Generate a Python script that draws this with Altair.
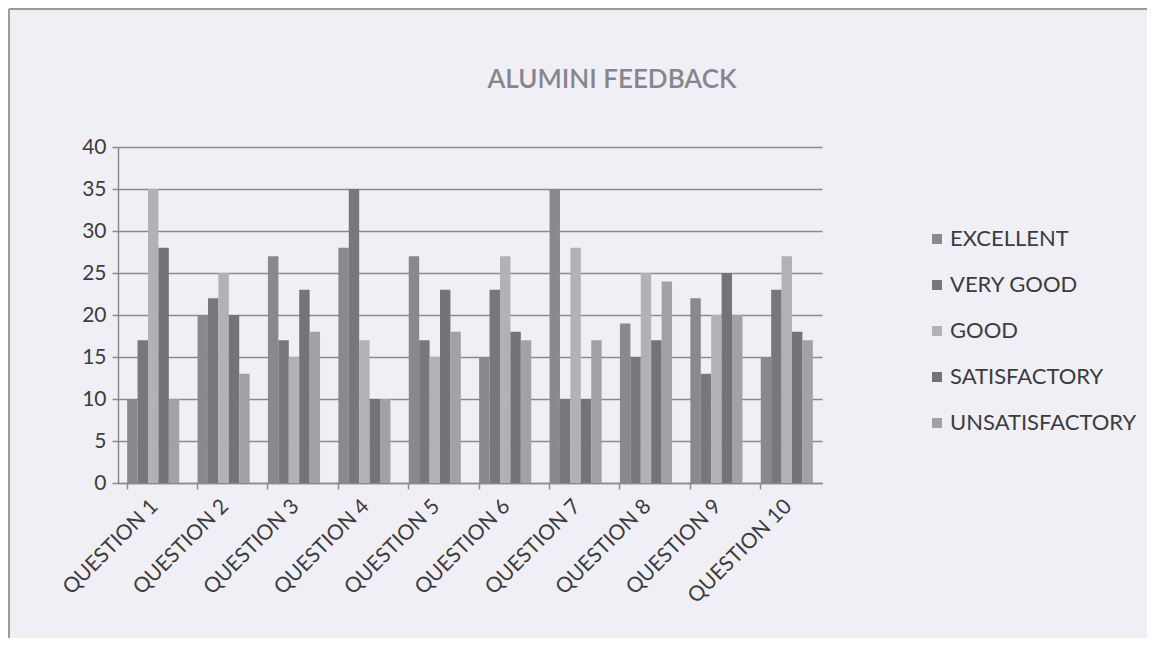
import altair as alt
import pandas as pd

questions = [f"QUESTION {i}" for i in range(1, 11)]
ratings = ["EXCELLENT", "VERY GOOD", "GOOD", "SATISFACTORY", "UNSATISFACTORY"]
excellent = [10, 20, 27, 28, 27, 15, 35, 19, 22, 15]
very_good = [17, 22, 17, 35, 17, 23, 10, 15, 13, 23]
good = [35, 25, 15, 17, 15, 27, 28, 25, 20, 27]
satisfactory = [28, 20, 23, 10, 23, 18, 10, 17, 25, 18]
unsatisfactory = [10, 13, 18, 10, 18, 17, 17, 24, 20, 17]
colors = ["#88888d", "#77777c", "#b1b1b6", "#737378", "#a1a1a6"]

series = [excellent, very_good, good, satisfactory, unsatisfactory]
rows = []
for r, vals in zip(ratings, series):
    for q, v in zip(questions, vals):
        rows.append({"question": q, "rating": r, "value": v})
df = pd.DataFrame(rows)

FONT = "Lato"
W, H = 704, 336

bars = alt.Chart(df).mark_bar().encode(
    x=alt.X("question:N", sort=questions,
            scale=alt.Scale(paddingInner=0.26, paddingOuter=0.13),
            axis=alt.Axis(title=None, labelAngle=-45, labelFontSize=21, labelColor="#3c3c3c",
                          labelFont=FONT, domainColor="#8a8a8a", domainWidth=1.5,
                          tickColor="#8a8a8a", tickWidth=1.5, tickSize=6, bandPosition=0,
                          labelPadding=6, labelOffset=-6, grid=False)),
    xOffset=alt.XOffset("rating:N", sort=ratings, scale=alt.Scale(paddingInner=0, paddingOuter=0)),
    y=alt.Y("value:Q", scale=alt.Scale(domain=[0, 40]),
            axis=alt.Axis(title=None, values=list(range(0, 41, 5)), labelFontSize=21,
                          labelColor="#3c3c3c", labelFont=FONT, domainColor="#8a8a8a",
                          domainWidth=1.5, tickColor="#8a8a8a", tickWidth=1.5, tickSize=6,
                          gridColor="#8a8a8a", gridWidth=1.5, labelPadding=6)),
    color=alt.Color("rating:N", sort=ratings, scale=alt.Scale(domain=ratings, range=colors),
                    legend=alt.Legend(title=None, orient="none", legendX=808, legendY=81,
                                      symbolType="square", symbolSize=100, symbolStrokeWidth=0,
                                      labelFontSize=22, labelFont=FONT, labelColor="#3c3c3c",
                                      rowPadding=24, labelOffset=2, labelLimit=400)),
)

left_line = alt.Chart(df).mark_rule(color="#9a9a9a", strokeWidth=1.5).encode(
    x=alt.value(-109), y=alt.value(-138), y2=alt.value(500)
)
top_line = alt.Chart(df).mark_rule(color="#9a9a9a", strokeWidth=1.5).encode(
    x=alt.value(-109), x2=alt.value(1040), y=alt.value(-138)
)

chart = alt.layer(left_line, top_line, bars).properties(
    width=W, height=H,
    padding={"left": 110, "top": 139, "right": 325, "bottom": 155},
    autosize=alt.AutoSizeParams(type="none"),
    background="#f1eff6",
    title=alt.TitleParams("ALUMINI FEEDBACK", font=FONT, fontSize=26, fontWeight=600,
                          color="#86868b", anchor="middle", dx=142, offset=0, dy=85),
).configure_view(stroke=None)

chart.save("out.html", embed_options={"renderer": "svg", "actions": False})
